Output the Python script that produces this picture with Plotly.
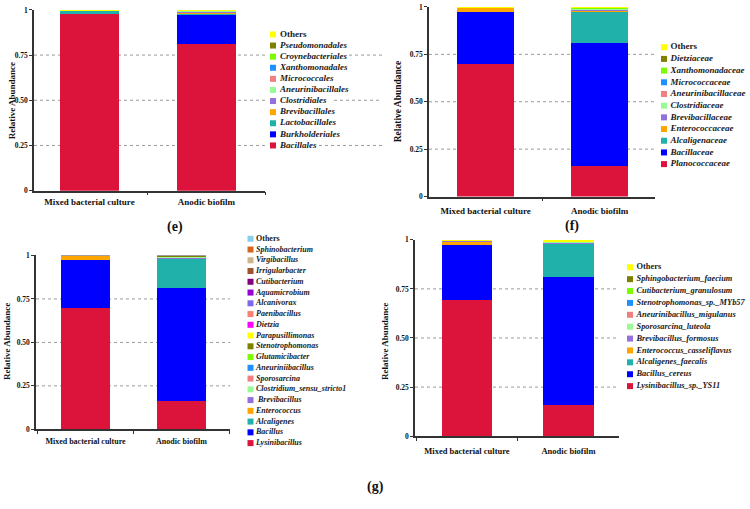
import plotly.graph_objects as go

W, H = 750, 509
FONT = "Liberation Serif, Times New Roman, serif"

samples = ["Mixed bacterial culture", "Anodic biofilm"]

# ---------------- data ----------------
# (e) order level, listed bottom -> top of the stack
e_taxa = ["Bacillales", "Burkholderiales", "Lactobacillales", "Brevibacillales",
          "Clostridiales", "Aneurinibacillales", "Micrococcales", "Xanthomonadales",
          "Croynebacteriales", "Pseudomonadales", "Others"]
e_mixed = [0.977, 0.0, 0.020, 0.001, 0.0005, 0.0003, 0.0002, 0.0002, 0.0002, 0.0002, 0.0006]
e_anodic = [0.810, 0.166, 0.003, 0.008, 0.005, 0.003, 0.001, 0.001, 0.001, 0.0005, 0.0015]
e_colors = ["#DC143C", "#0000FF", "#20B2AA", "#FFA500", "#9370DB", "#98FB98",
            "#F08080", "#1E90FF", "#7CFC00", "#808000", "#FFFF00"]

# (f) family level
f_taxa = ["Planococcaceae", "Bacillaceae", "Alcaligenaceae", "Enterococcaceae",
          "Brevibacillaceae", "Clostridiaceae", "Aneurinibacillaceae", "Micrococcaceae",
          "Xanthomonadaceae", "Dietziaceae", "Others"]
f_mixed = [0.700, 0.276, 0.0, 0.022, 0.001, 0.0003, 0.0002, 0.0001, 0.0001, 0.0001, 0.0002]
f_anodic = [0.160, 0.652, 0.166, 0.003, 0.006, 0.004, 0.002, 0.001, 0.001, 0.001, 0.004]
f_colors = ["#DC143C", "#0000FF", "#20B2AA", "#FFA500", "#9370DB", "#98FB98",
            "#F08080", "#1E90FF", "#7CFC00", "#808000", "#FFFF00"]

# (g) genus level
g_taxa = ["Lysinibacillus", "Bacillus", "Alcaligenes", "Enterococcus", " Brevibacillus",
          "Clostridium_sensu_stricto1", "Sporosarcina", "Aneuriniibacillus", "Glutamicibacter",
          "Stenotrophomonas", "Parapusillimonas", "Dietzia", "Paenibacillus", "Alcanivorax",
          "Aquamicrobium", "Cutibacterium", "Irrigularbacter", "Virgibacillus",
          "Sphinobacterium", "Others"]
g_mixed = [0.697, 0.277, 0.0, 0.022, 0.001, 0.0003, 0.0005, 0.0002, 0.0001, 0.0001,
           0.0001, 0.0001, 0.0001, 0.0001, 0.0001, 0.0001, 0.0001, 0.0001, 0.0001, 0.0005]
g_anodic = [0.160, 0.650, 0.167, 0.003, 0.006, 0.004, 0.002, 0.0015, 0.0005, 0.0005,
            0.0005, 0.0005, 0.0008, 0.0003, 0.0003, 0.0003, 0.0003, 0.0003, 0.0003, 0.0018]
g_colors = ["#DC143C", "#0000FF", "#20B2AA", "#FFA500", "#9370DB", "#98FB98", "#F08080",
            "#1E90FF", "#7CFC00", "#808000", "#FFFF00", "#FF00FF", "#FA8072", "#7B68EE",
            "#9400D3", "#800080", "#A0522D", "#D2B48C", "#D2691E", "#87CEEB"]

# (h) species level
h_taxa = ["Lysinibacillus_sp._YS11", "Bacillus_cereus", "Alcaligenes_faecalis",
          "Enterococcus_casseliflavus", "Brevibacillus_formosus", "Sporosarcina_luteola",
          "Aneurinibacillus_migulanus", "Stenotrophomonas_sp._MYb57",
          "Cutibacterium_granulosum", "Sphingobacterium_faecium", "Others"]
h_mixed = [0.697, 0.277, 0.0, 0.020, 0.001, 0.0005, 0.0002, 0.0001, 0.0001, 0.0001, 0.002]
h_anodic = [0.160, 0.650, 0.172, 0.002, 0.005, 0.002, 0.001, 0.0005, 0.0003, 0.0003, 0.006]
h_colors = ["#DC143C", "#0000FF", "#20B2AA", "#FFA500", "#9370DB", "#98FB98",
            "#F08080", "#1E90FF", "#7CFC00", "#808000", "#FFFF00"]

y_tickvals = [0, 0.25, 0.5, 0.75, 1]
y_ticktext = ["0", "0.25", "0.50", "0.75", "1"]
grid_vals = [0.25, 0.5, 0.75]

# ---------------- layout helpers ----------------
def px_x(p):
    return p / W


def px_y(p):
    return 1 - p / H


fig = go.Figure()
layout = {}
shapes = []
annotations = []


def add_panel(n, taxa, mixed, anodic, colors, spec):
    xa = "x" if n == 1 else f"x{n}"
    ya = "y" if n == 1 else f"y{n}"
    for name, m, a, c in zip(taxa, mixed, anodic, colors):
        fig.add_trace(go.Bar(x=samples, y=[m, a], name=name, width=spec["bw"],
                             marker=dict(color=c, line=dict(width=0)),
                             xaxis=xa, yaxis=ya, showlegend=False))
    layout["xaxis" if n == 1 else f"xaxis{n}"] = dict(
        domain=[px_x(spec["x0"]), px_x(spec["x1"])], anchor=ya, type="category",
        range=spec["xr"], showline=True, linecolor="#333", linewidth=1.5,
        ticks="outside", tickson="boundaries", ticklen=3, tickcolor="#333",
        showgrid=False, zeroline=False, fixedrange=True, tickangle=0,
        ticklabelstandoff=spec["xstand"],
        tickfont=dict(family=FONT, size=spec["cfs"], color="#111", weight="bold"))
    layout["yaxis" if n == 1 else f"yaxis{n}"] = dict(
        domain=[px_y(spec["yb"]), px_y(spec["yt"])], anchor=xa, range=[0, 1],
        tickvals=y_tickvals, ticktext=y_ticktext, showline=True, linecolor="#333",
        linewidth=1.5, ticks="outside", ticklen=3, tickcolor="#333", showgrid=False,
        zeroline=False, fixedrange=True,
        tickfont=dict(family=FONT, size=7.5, color="#111", weight="bold"))
    for v in grid_vals:
        shapes.append(dict(type="line", xref=f"{xa} domain", yref=ya, x0=0, x1=1,
                           y0=v, y1=v, layer="below",
                           line=dict(color="#9a9a9a", width=1, dash="dot")))
    # y-axis title
    annotations.append(dict(text="<b>Relative Abundance</b>", xref="paper", yref="paper",
                            x=px_x(spec["tx"]), y=px_y(spec["ty"]), textangle=-90,
                            showarrow=False, xanchor="center", yanchor="middle",
                            font=dict(family=FONT, size=spec["tfs"], color="#111")))
    # compact legend on its own axes
    k = n + 4
    lxa, lya = f"x{k}", f"y{k}"
    cnt = len(taxa)
    s = (spec["ly_bot"] - spec["ly_top"]) / (cnt - 1)
    lw = min(spec["lw"], W - spec["lx"])
    layout[f"xaxis{k}"] = dict(domain=[px_x(spec["lx"]), px_x(spec["lx"] + lw)],
                               range=[0, lw], anchor=lya, visible=False, fixedrange=True)
    layout[f"yaxis{k}"] = dict(domain=[px_y(spec["ly_bot"] + s / 2), px_y(spec["ly_top"] - s / 2)],
                               range=[-0.5, cnt - 0.5], anchor=lxa, visible=False,
                               fixedrange=True)
    labels = [("<b>%s</b>" % t) if t == "Others" else ("<b><i>%s</i></b>" % t) for t in taxa]
    fig.add_trace(go.Scatter(x=[0] * cnt, y=list(range(cnt)), mode="markers",
                             marker=dict(symbol="square", size=6, color=colors,
                                         line=dict(width=0)),
                             xaxis=lxa, yaxis=lya, showlegend=False, cliponaxis=False,
                             hoverinfo="skip"))
    fig.add_trace(go.Scatter(x=[spec["toff"]] * cnt, y=list(range(cnt)), mode="text",
                             text=labels, textposition="middle right",
                             textfont=dict(family=FONT, size=spec["lfs"], color="#1a1a1a"),
                             xaxis=lxa, yaxis=lya, showlegend=False, cliponaxis=False,
                             hoverinfo="skip"))


add_panel(1, e_taxa, e_mixed, e_anodic, e_colors,
          dict(x0=34, x1=265, yt=6, yb=190, xr=[-0.474, 1.5], bw=0.50, xstand=2, cfs=9,
               tx=12, ty=99, tfs=9, lx=273, lw=110, ly_top=31, ly_bot=144, toff=7, lfs=9))
add_panel(2, f_taxa, f_mixed, f_anodic, f_colors,
          dict(x0=429, x1=655, yt=3, yb=196, xr=[-0.496, 1.486], bw=0.50, xstand=5, cfs=9,
               tx=398, ty=99, tfs=9.5, lx=664, lw=86, ly_top=44, ly_bot=163, toff=6.5, lfs=9))
add_panel(3, g_taxa, g_mixed, g_anodic, g_colors,
          dict(x0=36, x1=230, yt=256, yb=433, xr=[-0.516, 1.505], bw=0.51, xstand=3, cfs=8,
               tx=7, ty=344, tfs=9, lx=250.5, lw=120, ly_top=239, ly_bot=447, toff=5.5, lfs=8))
add_panel(4, h_taxa, h_mixed, h_anodic, h_colors,
          dict(x0=415, x1=619, yt=240, yb=440, xr=[-0.512, 1.498], bw=0.50, xstand=6, cfs=8.5,
               tx=385, ty=344, tfs=9, lx=630, lw=120, ly_top=268, ly_bot=389, toff=6.5, lfs=8.4))

# panel (e) gridlines continue to the right of its legend
for v, start in zip([0.75, 0.5, 0.25], [349, 334, 319]):
    shapes.append(dict(type="line", xref="paper", yref="y", x0=px_x(start), x1=px_x(382),
                       y0=v, y1=v, layer="below",
                       line=dict(color="#9a9a9a", width=1, dash="dot")))

for lab, x, y in [("(e)", 175, 227), ("(f)", 572, 226), ("(g)", 375, 492)]:
    annotations.append(dict(text="<b>%s</b>" % lab, xref="paper", yref="paper",
                            x=px_x(x), y=px_y(y), showarrow=False, xanchor="center",
                            yanchor="middle", font=dict(family=FONT, size=14, color="#111")))

fig.update_layout(width=W, height=H, margin=dict(l=0, r=0, t=0, b=0),
                  paper_bgcolor="white", plot_bgcolor="white", barmode="stack",
                  bargap=0, shapes=shapes, annotations=annotations, showlegend=False,
                  **layout)

fig.write_html("out.html")
